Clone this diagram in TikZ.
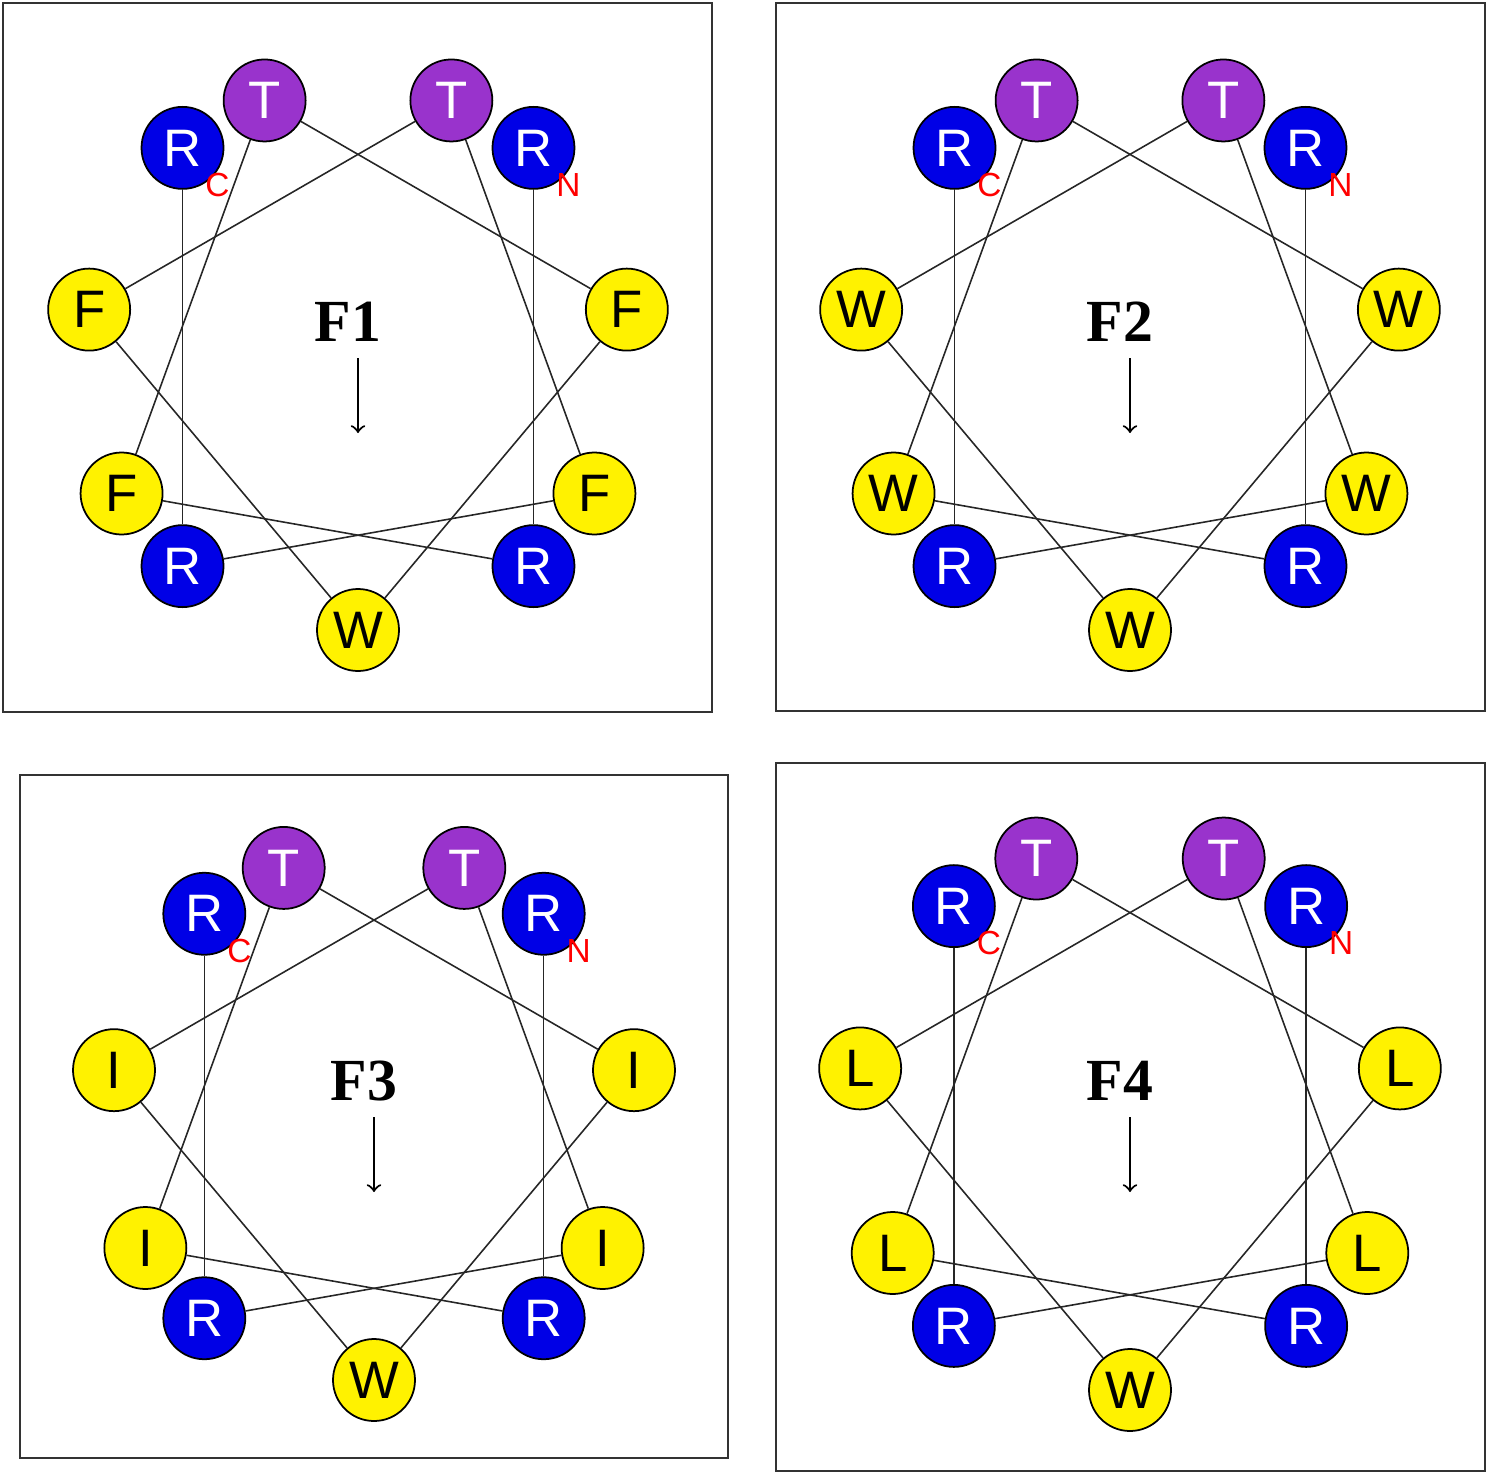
\documentclass[tikz,border=0pt]{standalone}
\usepackage{fontspec}
\setmainfont{Liberation Serif}
\setsansfont{Liberation Sans}
\usetikzlibrary{arrows}
\definecolor{tpurple}{RGB}{153,51,204}
\definecolor{rblue}{RGB}{0,0,230}

% one helical wheel: #1 name, #2 cx, #3 cy, #4 radius, #5 hydrophobic residue, #6 label
\newcommand{\helixwheel}[6]{%
  \foreach \res/\kind [count=\k from 0] in {R/posres,R/posres,#5/hydres,T/polres,#5/hydres,W/hydres,#5/hydres,T/polres,#5/hydres,R/posres,R/posres}
    \path (#2,#3) ++({50-100*\k}:#4) node[\kind] (#1-\k) {\res};
  \foreach \k [remember=\k as \p (initially 0)] in {1,...,10}
    \draw[link] (#1-\p) -- (#1-\k);
  \node[term] (#1-n) at ([shift={(0.35,-0.37)}]#1-0.center) {N};
  \node[term] (#1-c) at ([shift={(0.35,-0.37)}]#1-10.center) {C};
  \node[tag] (#1-lab) at (#2-0.1,#3+0.35) {#6};
  \coordinate (#1-top) at (#2,#3-0.01);
  \coordinate (#1-bot) at (#2,#3-0.76);
  \draw[arrow] (#1-top) -- (#1-bot);
}

\begin{document}
\begin{tikzpicture}[
    res/.style={circle, draw=black, line width=0.5pt, minimum size=0.82cm, inner sep=0pt,
                font=\sffamily\fontsize{15}{15}\selectfont},
    posres/.style={res, fill=rblue, text=white},
    polres/.style={res, fill=tpurple, text=white},
    hydres/.style={res, fill=yellow, text=black},
    link/.style={line width=0.45pt, black!85},
    term/.style={text=red, font=\sffamily\fontsize{9.5}{9.5}\selectfont, inner sep=0pt},
    tag/.style={font=\bfseries\fontsize{17}{17}\selectfont, inner sep=0pt},
    arrow/.style={->, >=to, line width=0.6pt},
    frame/.style={draw=black!80, line width=0.8pt}
]
\useasboundingbox (0,0) rectangle (14.89,-14.75);

\draw[frame] (0.03,-0.03) rectangle (7.12,-7.12);
\draw[frame] (7.76,-0.03) rectangle (14.85,-7.11);
\draw[frame] (0.20,-7.75) rectangle (7.28,-14.58);
\draw[frame] (7.76,-7.63) rectangle (14.85,-14.71);

\helixwheel{fa}{3.58}{-3.57}{2.73}{F}{F1}
\helixwheel{fb}{11.30}{-3.57}{2.73}{W}{F2}
\helixwheel{fc}{3.74}{-11.16}{2.64}{I}{F3}
\helixwheel{fd}{11.30}{-11.16}{2.74}{L}{F4}

\end{tikzpicture}
\end{document}
